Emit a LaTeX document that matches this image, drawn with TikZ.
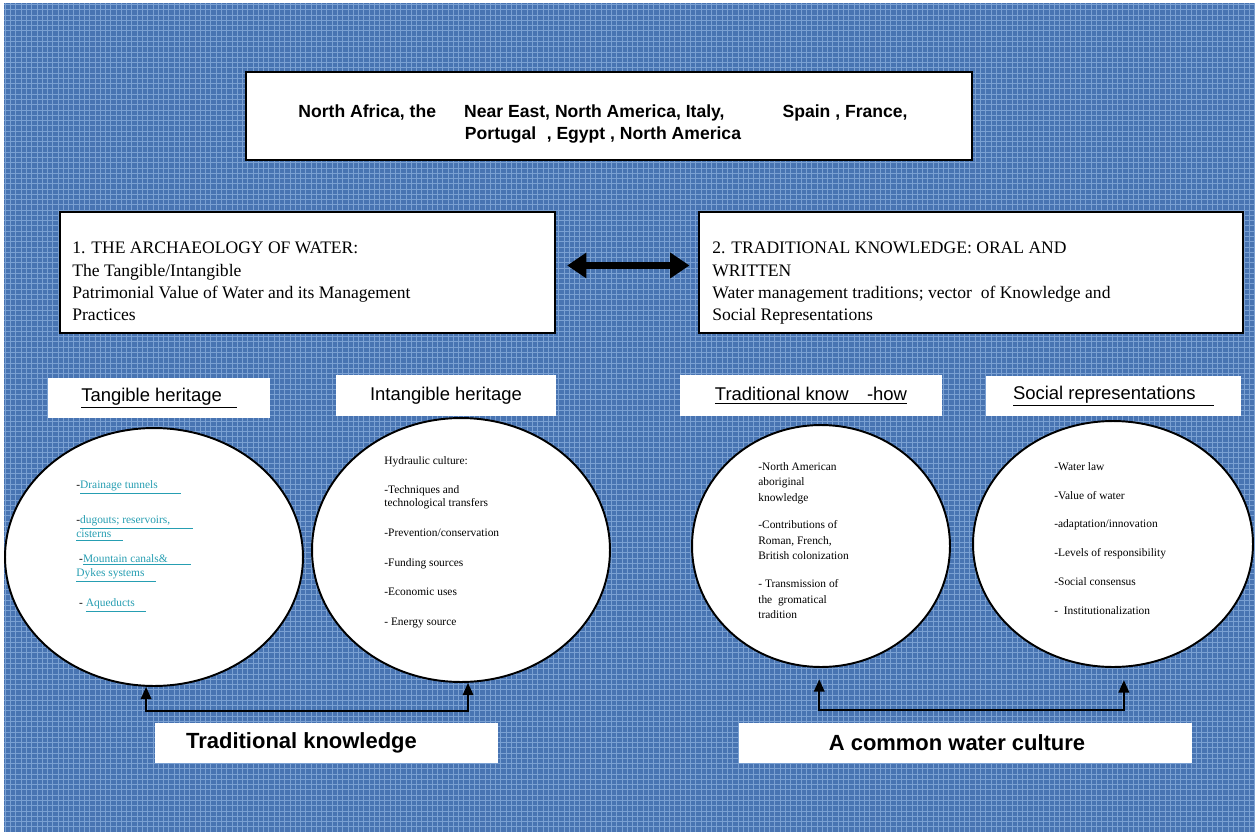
\documentclass[tikz,border=0pt]{standalone}
\usepackage{fontspec}
\setmainfont{Liberation Serif}
\setsansfont{Liberation Sans}
\usetikzlibrary{arrows.meta, positioning, shapes.geometric, patterns}

\definecolor{bgblue}{RGB}{72,116,178}
\definecolor{bglight}{RGB}{122,160,210}
\definecolor{linkteal}{RGB}{38,158,178}

\begin{document}
\begin{tikzpicture}[x=0.02cm, y=-0.02cm,
  whitebox/.style={draw, line width=0.9pt, fill=white, inner sep=0pt},
  labelbox/.style={fill=white, inner sep=0pt, minimum height=0.81cm,
                   font=\sffamily\fontsize{10.5}{12}\selectfont},
  footbox/.style={fill=white, inner sep=0pt, minimum height=0.8cm,
                  font=\sffamily\bfseries\fontsize{12.5}{15}\selectfont},
  bubble/.style={ellipse, draw, line width=1.1pt, fill=white, inner sep=0pt},
  boxtext/.style={anchor=north west, inner sep=0pt, align=left,
                  font=\fontsize{10}{12.6}\selectfont},
  bubbletext/.style={anchor=north west, inner sep=0pt, align=left},
  link/.style={line width=1.1pt,
               {Triangle[length=7pt,width=6pt]}-{Triangle[length=7pt,width=6pt]}},
  ]
  % Background
  \useasboundingbox (0,0) rectangle (1255,832);
  \fill[bgblue] (4,3) rectangle (1255,832);
  \fill[pattern=grid, pattern color=bglight] (4,3) rectangle (1255,832);

  % Regions
  \node[whitebox, line width=1.3pt, minimum width=14.52cm, minimum height=1.76cm]
    (regions) at (609,116) {};
  \node[inner sep=0pt, align=center, font=\sffamily\bfseries\fontsize{10}{13}\selectfont]
    (regionstxt) at (603,124)
    {North Africa, the\hspace{16pt}Near East, North America, Italy,\hspace{33pt}Spain , France,\\
     Portugal\hspace{6pt}, Egypt , North America};

  % The two research axes
  \node[whitebox, minimum width=9.9cm, minimum height=2.42cm] (arch) at (307.5,272.5) {};
  \node[boxtext] (archtxt) at (72,242)
    {1. THE ARCHAEOLOGY OF WATER:\\
     The Tangible/Intangible\\
     Patrimonial Value of Water and its Management\\
     Practices};
  \node[whitebox, minimum width=10.88cm, minimum height=2.42cm] (trad) at (971,272.5) {};
  \node[boxtext] (tradtxt) at (712,242)
    {2. TRADITIONAL KNOWLEDGE: ORAL AND\\
     WRITTEN\\
     Water management traditions; vector\ \ of Knowledge and\\
     Social Representations};
  \draw[line width=4.5pt, {Triangle[length=11pt,width=14pt]}-{Triangle[length=11pt,width=14pt]},
        shorten <=6.5pt, shorten >=5pt]
    ([yshift=4pt]arch.east) -- ([yshift=4pt]trad.west);

  % Headings
  \node[labelbox, minimum width=4.44cm] (tanglab) at (159,398)
    {\underline{Tangible heritage\hspace{0.8em}}};
  \node[labelbox, minimum width=4.4cm] (intanglab) at (446,395.5) {Intangible heritage};
  \node[labelbox, minimum width=5.24cm] (knowlab) at (811,395.5)
    {\underline{Traditional know\hspace{1em}-how}};
  \node[labelbox, minimum width=5.1cm] (sociallab) at (1113.5,396)
    {\underline{Social representations\hspace{1em}}};

  % Bubbles
  \node[bubble, minimum width=5.96cm, minimum height=5.16cm] (tang) at (154,557) {};
  \node[bubble, minimum width=5.96cm, minimum height=5.28cm] (intang) at (461,550) {};
  \node[bubble, minimum width=5.16cm, minimum height=4.84cm] (knowhow) at (821,546) {};
  \node[bubble, minimum width=5.6cm, minimum height=4.92cm] (social) at (1113,544) {};

  \node[bubbletext, font=\fontsize{6.5}{8}\selectfont] (tangtxt) at (76,480)
    {-\textcolor{linkteal}{\underline{Drainage tunnels\hspace{2em}}}\\[12pt]
     -\textcolor{linkteal}{\underline{dugouts; reservoirs,\hspace{2em}}}\\
     \textcolor{linkteal}{\underline{cisterns\hspace{1em}}}\\[6pt]
     \ -\textcolor{linkteal}{\underline{Mountain canals\&\hspace{2em}}}\\
     \textcolor{linkteal}{\underline{Dykes systems\hspace{1em}}}\\[9.5pt]
     \ - \textcolor{linkteal}{\underline{Aqueducts\hspace{1em}}}};
  \node[bubbletext, font=\fontsize{6.5}{7.5}\selectfont] (intangtxt) at (384,456)
    {Hydraulic culture:\\[9pt]
     -Techniques and\\
     technological transfers\\[9.5pt]
     -Prevention/conservation\\[9.5pt]
     -Funding sources\\[9pt]
     -Economic uses\\[9.5pt]
     - Energy source};
  \node[bubbletext, font=\fontsize{6.5}{8.8}\selectfont] (knowtxt) at (758,462)
    {-North American\\
     aboriginal\\
     knowledge\\[7pt]
     -Contributions of\\
     Roman, French,\\
     British colonization\\[7pt]
     - Transmission of\\
     the\ \ gromatical\\
     tradition};
  \node[bubbletext, font=\fontsize{6.5}{16.4}\selectfont] (socialtxt) at (1054,462)
    {-Water law\\
     -Value of water\\
     -adaptation/innovation\\
     -Levels of responsibility\\
     -Social consensus\\
     - \ Institutionalization};

  % Links and conclusions
  \draw[link] ([xshift=-4.5pt]tang.south) -- ++(0,24) -| ([xshift=4pt]intang.south);
  \draw[link, shorten <=6.5pt, shorten >=7pt]
    ([xshift=-1pt]knowhow.south) -- ++(0,42) -| ([xshift=6.2pt]social.south);

  \node[footbox, minimum width=6.86cm] (tradknow) at (326.5,742.5)
    {Traditional knowledge\hspace{1cm}\mbox{}};
  \node[footbox, minimum width=9.06cm] (commonwater) at (965.5,742.5)
    {A common water culture\hspace{0.34cm}\mbox{}};
\end{tikzpicture}
\end{document}
